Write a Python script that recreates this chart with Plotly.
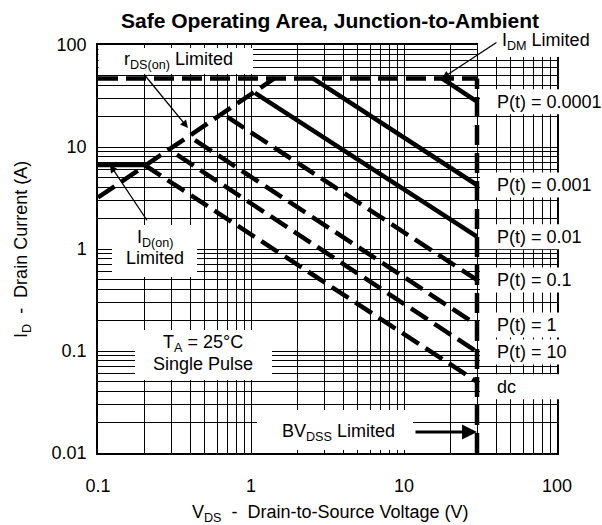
import plotly.graph_objects as go
import math

FONT = "Liberation Sans, Arial, sans-serif"

# ---------------- data ----------------
bv_voltage = 30.0          # BVDSS limit (V)
idm_current = 47.0         # IDM limit (A)
idon_current = 6.7         # ID(on) limit (A)
v_min, v_max = 0.1, 100.0
i_min, i_max = 0.01, 100.0

idm_line_v = [0.1, 30.0]
idon_line_v = [0.1, 0.2]
rds_line_v = [0.1, 1.42]
rds_line_i = [3.2, 47.0]
bv_line_i = [0.01, 47.0]

pulse_names = ["P(t) = 0.0001", "P(t) = 0.001", "P(t) = 0.01", "P(t) = 0.1",
               "P(t) = 1", "P(t) = 10", "dc"]
pulse_v_start = [17.7, 2.54, 1.06, 0.70, 0.43, 0.328, 0.2]
pulse_i_start = [47.0, 47.0, 33.9, 19.7, 11.7, 8.4, 6.7]
pulse_i_end = [27.8, 4.24, 1.32, 0.497, 0.18, 0.098, 0.05]
pulse_solid = [True, True, True, False, False, False, False]

x_tick_vals = [0.1, 1, 10, 100]
x_tick_text = ["0.1", "1", "10", "100"]
y_tick_vals = [0.01, 0.1, 1, 10, 100]
y_tick_text = ["0.01", "0.1", "1", "10", "100"]

# ---------------- layout geometry ----------------
W, H = 602, 525
L, R, T, B = 98, 557, 45, 453


def fx(px):
    return (px - L) / (R - L)


def fy(py):
    return (B - py) / (B - T)


DASH = "20px,8px"
fig = go.Figure()

# IDM limit
fig.add_trace(go.Scatter(x=idm_line_v, y=[idm_current] * 2, mode="lines",
                         line=dict(color="black", width=4.5, dash=DASH)))
# ID(on) limit
fig.add_trace(go.Scatter(x=idon_line_v, y=[idon_current] * 2, mode="lines",
                         line=dict(color="black", width=5)))
# rDS(on) limit
fig.add_trace(go.Scatter(x=rds_line_v, y=rds_line_i, mode="lines",
                         line=dict(color="black", width=4.5, dash=DASH)))
# pulse lines
for name, vs, i0, i1, solid in zip(pulse_names, pulse_v_start, pulse_i_start,
                                   pulse_i_end, pulse_solid):
    fig.add_trace(go.Scatter(x=[vs, bv_voltage], y=[i0, i1], mode="lines", name=name,
                             line=dict(color="black", width=4.5,
                                       dash="solid" if solid else DASH)))
# BVDSS limit
fig.add_trace(go.Scatter(x=[bv_voltage] * 2, y=bv_line_i, mode="lines",
                         line=dict(color="black", width=4.5, dash=DASH)))

shapes = []


def white_box(x0, x1, y0, y1):
    shapes.append(dict(type="rect", xref="paper", yref="paper",
                       x0=fx(x0), x1=fx(x1), y0=fy(y1), y1=fy(y0),
                       fillcolor="white", line=dict(width=0), layer="above"))


annotations = []


def text(t, px, py, size=18, anchor="center", angle=0):
    annotations.append(dict(text=t, x=fx(px), y=fy(py), xref="paper", yref="paper",
                            showarrow=False, xanchor=anchor, yanchor="middle",
                            textangle=angle, font=dict(family=FONT, size=size, color="black")))


def arrow(x_log, y_log, ax, ay, width=1.3, size=1.2):
    annotations.append(dict(text="", x=x_log, y=y_log, xref="x", yref="y",
                            showarrow=True, ax=ax, ay=ay, arrowhead=2,
                            arrowsize=size, arrowwidth=width, arrowcolor="black",
                            standoff=0, startstandoff=0))


# label boxes
white_box(98.5, 253, 48, 74)      # rDS(on)
white_box(478, 602, 26, 57)       # IDM
white_box(112, 197, 225, 277)     # ID(on)
white_box(135, 272, 330, 380)     # TA
white_box(257, 413, 410, 450)     # BVDSS

# P(t) labels at the right, aligned with each line's end current
for k, (name, iend) in enumerate(zip(pulse_names, pulse_i_end)):
    py = T + (2 - math.log10(iend)) * (B - T) / 4
    if name == "dc":
        py += 5
    white_box(480, 602, py - 12.5, py + 12.5)
    text(name, 495, py, anchor="left")

text("r<sub>DS(on)</sub> Limited", 178, 61)
text("I<sub>DM</sub> Limited", 500, 41, anchor="left")
text("I<sub>D(on)</sub>", 155, 238)
text("Limited", 155, 258)
text("T<sub>A</sub> = 25\u00b0C", 203, 343)
text("Single Pulse", 203, 364)
text("BV<sub>DSS</sub> Limited", 338, 432)

# arrows
arrow(-0.412, 1.186, -45, -55)
arrow(math.log10(pulse_v_start[0]), math.log10(idm_current), 56, -37)
arrow(-0.922, math.log10(idon_current), 38, 57)
arrow(math.log10(bv_voltage), -1.794, -63, 0, width=3, size=1.0)

# axis titles
text("V<sub>DS</sub>\u00a0\u00a0-\u00a0\u00a0Drain-to-Source Voltage (V)", 330, 513)
text("I<sub>D</sub>\u00a0\u00a0-\u00a0\u00a0Drain Current (A)", 22, 250, angle=-90)

axis_common = dict(type="log", showgrid=True, gridcolor="black", gridwidth=1,
                   minor=dict(dtick="D1", showgrid=True, gridcolor="black", gridwidth=1, ticks=""),
                   showline=True, linecolor="black", linewidth=1.5, mirror=True,
                   ticks="", zeroline=False,
                   tickfont=dict(family=FONT, size=18, color="black"))

fig.update_layout(
    width=W, height=H,
    margin=dict(l=L, r=W - R, t=T, b=H - B),
    paper_bgcolor="white", plot_bgcolor="white",
    showlegend=False,
    title=dict(text="<b>Safe Operating Area, Junction-to-Ambient</b>",
               x=330 / W, y=1 - 21 / H, xanchor="center", yanchor="middle",
               font=dict(family=FONT, size=21, color="black")),
    xaxis=dict(range=[math.log10(v_min), math.log10(v_max)], tickmode="array",
               tickvals=x_tick_vals, ticktext=x_tick_text, ticklabelstandoff=16,
               **axis_common),
    yaxis=dict(range=[math.log10(i_min), math.log10(i_max)], tickmode="array",
               tickvals=y_tick_vals, ticktext=y_tick_text, ticklabelstandoff=6,
               **axis_common),
    shapes=shapes,
    annotations=annotations,
)

fig.write_html("out.html", config={"displayModeBar": False},
               post_script="document.body.style.margin='0';document.body.style.overflow='hidden';")
